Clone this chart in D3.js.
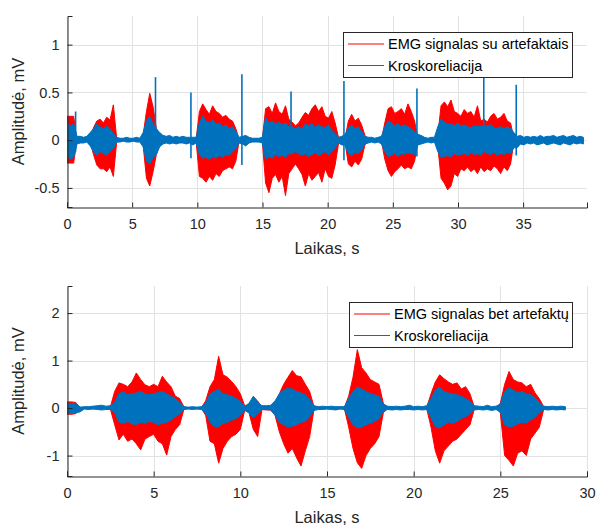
<!DOCTYPE html>
<html>
<head>
<meta charset="utf-8">
<script src="https://cdn.jsdelivr.net/npm/d3@7"></script>
<style>
  html, body { margin: 0; padding: 0; background: #fff; }
  svg { display: block; font-family: "Liberation Sans", Arial, Helvetica, sans-serif; }
</style>
</head>
<body>
<div id="chartHolder"></div>
<script>
// top panel: min / max of each 0.254 s window (mV)
const topStep = 0.254;
const topRedHi = [
  0.25, 0.25, 0.25, 0.01,  0.01, 0.01, 0.01, 0.02,  0.13, 0.20, 0.22, 0.18,  0.24, 0.21, 0.37, 0.02,
  0.01, 0.01, 0.01, 0.01,  0.01, 0.01, 0.01, 0.05,  0.30, 0.49, 0.35, 0.12,  0.04, 0.01, 0.01, 0.01,
  0.01, 0.01, 0.01, 0.01,  0.01, 0.01, 0.01, 0.01,  0.30, 0.38, 0.32, 0.27,  0.36, 0.30, 0.28, 0.24,
  0.26, 0.22, 0.20, 0.12,  0.01, 0.01, 0.01, 0.01,  0.01, 0.01, 0.01, 0.01,  0.33, 0.35, 0.28, 0.39,
  0.30, 0.27, 0.36, 0.22,  0.19, 0.15, 0.18, 0.24,  0.29, 0.26, 0.33, 0.37,  0.30, 0.35, 0.25, 0.23,
  0.30, 0.18, 0.03, 0.01,  0.02, 0.20, 0.27, 0.20,  0.23, 0.16, 0.05, 0.01,  0.01, 0.01, 0.01, 0.01,
  0.18, 0.33, 0.35, 0.28,  0.30, 0.33, 0.27, 0.38,  0.30, 0.20, 0.02, 0.01,  0.01, 0.01, 0.01, 0.01,
  0.05, 0.36, 0.40, 0.35,  0.42, 0.30, 0.28, 0.25,  0.32, 0.28, 0.30, 0.24,  0.36, 0.20, 0.22, 0.19,
  0.25, 0.28, 0.22, 0.24,  0.28, 0.20, 0.18, 0.02,  0.01, 0.01, 0.01, 0.01,  0.01, 0.01, 0.01, 0.01,
  0.01, 0.01, 0.01, 0.01,  0.01, 0.01, 0.01, 0.01,  0.01, 0.01, 0.01, 0.01,  0.01
];
const topRedLo = [
  -0.24, -0.24, -0.24, -0.01,  -0.01, -0.01, -0.01, -0.02,  -0.15, -0.26, -0.30, -0.30,  -0.33, -0.28, -0.38, -0.02,
  -0.01, -0.01, -0.01, -0.01,  -0.01, -0.01, -0.01, -0.05,  -0.40, -0.48, -0.33, -0.15,  -0.04, -0.01, -0.01, -0.01,
  -0.01, -0.01, -0.01, -0.01,  -0.01, -0.01, -0.01, -0.01,  -0.38, -0.40, -0.44, -0.38,  -0.42, -0.35, -0.38, -0.32,
  -0.30, -0.28, -0.30, -0.22,  -0.01, -0.01, -0.01, -0.01,  -0.01, -0.01, -0.01, -0.01,  -0.45, -0.55, -0.40, -0.36,
  -0.44, -0.38, -0.58, -0.35,  -0.30, -0.25, -0.30, -0.36,  -0.48, -0.35, -0.42, -0.38,  -0.34, -0.44, -0.30, -0.38,
  -0.40, -0.26, -0.04, -0.01,  -0.03, -0.25, -0.28, -0.22,  -0.26, -0.20, -0.05, -0.01,  -0.01, -0.01, -0.01, -0.01,
  -0.20, -0.32, -0.38, -0.33,  -0.30, -0.26, -0.30, -0.28,  -0.30, -0.22, -0.02, -0.01,  -0.01, -0.01, -0.01, -0.01,
  -0.06, -0.40, -0.45, -0.52,  -0.48, -0.35, -0.38, -0.30,  -0.32, -0.28, -0.33, -0.30,  -0.35, -0.28, -0.33, -0.30,
  -0.32, -0.27, -0.30, -0.35,  -0.28, -0.32, -0.25, -0.02,  -0.01, -0.01, -0.01, -0.01,  -0.01, -0.01, -0.01, -0.01,
  -0.01, -0.01, -0.01, -0.01,  -0.01, -0.01, -0.01, -0.01,  -0.01, -0.01, -0.01, -0.01,  -0.01
];
const topBlueHi = [
  0.18, 0.15, 0.17, 0.04,  0.04, 0.03, 0.04, 0.08,  0.12, 0.17, 0.14, 0.12,  0.15, 0.12, 0.07, 0.03,
  0.02, 0.02, 0.03, 0.02,  0.02, 0.03, 0.02, 0.08,  0.20, 0.25, 0.17, 0.12,  0.08, 0.05, 0.04, 0.05,
  0.03, 0.04, 0.03, 0.04,  0.03, 0.03, 0.03, 0.03,  0.18, 0.25, 0.20, 0.18,  0.21, 0.17, 0.18, 0.14,
  0.16, 0.12, 0.14, 0.09,  0.03, 0.04, 0.05, 0.03,  0.02, 0.02, 0.02, 0.03,  0.24, 0.18, 0.20, 0.17,
  0.19, 0.16, 0.18, 0.14,  0.14, 0.12, 0.14, 0.12,  0.17, 0.15, 0.17, 0.13,  0.16, 0.14, 0.13, 0.16,
  0.10, 0.07, 0.03, 0.04,  0.06, 0.13, 0.16, 0.12,  0.14, 0.09, 0.04, 0.03,  0.03, 0.02, 0.03, 0.04,
  0.14, 0.20, 0.18, 0.15,  0.17, 0.14, 0.16, 0.14,  0.12, 0.09, 0.06, 0.05,  0.03, 0.02, 0.03, 0.03,
  0.14, 0.22, 0.19, 0.17,  0.17, 0.15, 0.18, 0.15,  0.16, 0.14, 0.13, 0.15,  0.14, 0.15, 0.14, 0.15,
  0.16, 0.13, 0.12, 0.14,  0.12, 0.14, 0.12, 0.08,  0.04, 0.05, 0.03, 0.04,  0.03, 0.04, 0.03, 0.05,
  0.03, 0.04, 0.04, 0.05,  0.03, 0.04, 0.05, 0.03,  0.04, 0.05, 0.03, 0.04,  0.03
];
const topBlueLo = [
  -0.17, -0.20, -0.18, -0.04,  -0.03, -0.03, -0.02, -0.06,  -0.12, -0.16, -0.12, -0.14,  -0.16, -0.12, -0.09, -0.02,
  -0.02, -0.01, -0.02, -0.02,  -0.01, -0.02, -0.02, -0.07,  -0.22, -0.25, -0.18, -0.15,  -0.07, -0.04, -0.03, -0.04,
  -0.03, -0.04, -0.03, -0.03,  -0.04, -0.03, -0.05, -0.03,  -0.15, -0.19, -0.18, -0.20,  -0.17, -0.19, -0.16, -0.18,
  -0.15, -0.16, -0.12, -0.09,  -0.03, -0.04, -0.06, -0.03,  -0.02, -0.02, -0.02, -0.03,  -0.20, -0.17, -0.19, -0.15,
  -0.17, -0.16, -0.18, -0.14,  -0.14, -0.12, -0.14, -0.16,  -0.14, -0.17, -0.15, -0.13,  -0.16, -0.14, -0.12, -0.16,
  -0.12, -0.08, -0.03, -0.05,  -0.05, -0.14, -0.16, -0.13,  -0.14, -0.10, -0.04, -0.03,  -0.02, -0.03, -0.02, -0.04,
  -0.12, -0.17, -0.16, -0.14,  -0.17, -0.14, -0.15, -0.13,  -0.14, -0.15, -0.05, -0.04,  -0.03, -0.02, -0.03, -0.02,
  -0.12, -0.18, -0.17, -0.16,  -0.18, -0.14, -0.16, -0.15,  -0.14, -0.16, -0.13, -0.15,  -0.14, -0.16, -0.12, -0.14,
  -0.15, -0.13, -0.16, -0.14,  -0.15, -0.13, -0.14, -0.08,  -0.08, -0.04, -0.05, -0.03,  -0.04, -0.03, -0.05, -0.04,
  -0.03, -0.05, -0.04, -0.03,  -0.04, -0.05, -0.03, -0.04,  -0.05, -0.03, -0.04, -0.03,  -0.04
];
// narrow cross-correlation peaks in the top panel
const topSpikeT  = [0.66, 6.79, 9.51, 13.42, 17.19, 21.25, 26.85, 31.98, 34.47];
const topSpikeHi = [0.30, 0.66, 0.50, 0.69, 0.51, 0.62, 0.54, 0.95, 0.58];
const topSpikeLo = [-0.12, -0.10, -0.19, -0.26, -0.15, -0.21, -0.17, -0.12, -0.16];

// bottom panel: min / max of each 0.25 s window (mV)
const botStep = 0.25;
const botRedHi = [
  0.13, 0.13, 0.12, 0.01,  0.01, 0.01, 0.01, 0.01,  0.01, 0.01, 0.02, 0.35,  0.53, 0.50, 0.45, 0.55,
  0.74, 0.60, 0.49, 0.45,  0.50, 0.45, 0.67, 0.55,  0.45, 0.25, 0.20, 0.02,  0.01, 0.01, 0.01, 0.01,
  0.15, 0.45, 0.60, 1.09,  0.70, 0.65, 0.56, 0.45,  0.30, 0.05, 0.02, 0.24,  0.15, 0.01, 0.00, 0.00,
  0.10, 0.30, 0.50, 0.65,  0.79, 0.68, 0.66, 0.50,  0.35, 0.03, 0.01, 0.01,  0.01, 0.01, 0.01, 0.01,
  0.01, 0.25, 0.65, 1.23,  0.85, 0.74, 0.60, 0.55,  0.50, 0.10, 0.01, 0.01,  0.01, 0.01, 0.01, 0.01,
  0.01, 0.01, 0.01, 0.01,  0.30, 0.55, 0.70, 0.62,  0.55, 0.50, 0.53, 0.40,  0.45, 0.30, 0.02, 0.01,
  0.01, 0.01, 0.01, 0.01,  0.10, 0.50, 0.77, 0.60,  0.55, 0.53, 0.45, 0.50,  0.32, 0.20, 0.03, 0.01,
  0.01, 0.01, 0.01, 0.01
];
const botRedLo = [
  -0.13, -0.13, -0.12, -0.01,  -0.01, -0.01, -0.01, -0.01,  -0.01, -0.01, -0.02, -0.35,  -0.67, -0.55, -0.70, -0.65,
  -0.75, -0.88, -0.65, -0.60,  -0.55, -0.70, -0.75, -0.99,  -0.60, -0.45, -0.35, -0.02,  -0.01, -0.01, -0.01, -0.01,
  -0.15, -0.70, -0.75, -1.16,  -0.85, -0.70, -0.60, -0.55,  -0.45, -0.05, -0.10, -0.45,  -0.60, -0.03, -0.04, -0.04,
  -0.15, -0.50, -0.75, -0.95,  -0.85, -1.05, -1.22, -0.90,  -0.60, -0.03, -0.01, -0.01,  -0.01, -0.01, -0.01, -0.01,
  -0.01, -0.40, -0.85, -1.15,  -1.27, -1.00, -0.85, -0.75,  -0.60, -0.10, -0.01, -0.01,  -0.01, -0.01, -0.01, -0.01,
  -0.01, -0.01, -0.01, -0.01,  -0.40, -0.90, -1.16, -0.90,  -0.80, -0.70, -0.65, -0.55,  -0.45, -0.35, -0.02, -0.01,
  -0.01, -0.01, -0.01, -0.01,  -0.10, -1.00, -1.10, -1.22,  -0.95, -0.90, -1.00, -0.65,  -0.53, -0.40, -0.03, -0.01,
  -0.01, -0.01, -0.01, -0.01
];
const botBlueHi = [
  0.10, 0.09, 0.10, 0.02,  0.03, 0.03, 0.04, 0.05,  0.06, 0.04, 0.05, 0.12,  0.30, 0.35, 0.28, 0.30,
  0.32, 0.35, 0.30, 0.28,  0.30, 0.33, 0.35, 0.30,  0.25, 0.20, 0.12, 0.03,  0.02, 0.03, 0.02, 0.03,
  0.10, 0.30, 0.35, 0.40,  0.30, 0.28, 0.25, 0.20,  0.15, 0.04, 0.10, 0.25,  0.12, 0.05, 0.05, 0.06,
  0.15, 0.30, 0.38, 0.42,  0.40, 0.35, 0.32, 0.28,  0.18, 0.05, 0.03, 0.04,  0.03, 0.04, 0.03, 0.03,
  0.03, 0.20, 0.35, 0.45,  0.40, 0.35, 0.30, 0.28,  0.25, 0.08, 0.04, 0.03,  0.04, 0.03, 0.04, 0.06,
  0.03, 0.04, 0.03, 0.05,  0.20, 0.38, 0.45, 0.35,  0.32, 0.30, 0.28, 0.25,  0.20, 0.15, 0.05, 0.04,
  0.03, 0.06, 0.03, 0.04,  0.08, 0.35, 0.42, 0.38,  0.32, 0.35, 0.30, 0.28,  0.22, 0.12, 0.04, 0.03,
  0.04, 0.03, 0.04, 0.03
];
const botBlueLo = [
  -0.10, -0.12, -0.10, -0.08,  -0.02, -0.03, -0.02, -0.03,  -0.04, -0.03, -0.03, -0.10,  -0.30, -0.32, -0.28, -0.33,
  -0.35, -0.30, -0.32, -0.28,  -0.30, -0.35, -0.32, -0.30,  -0.25, -0.18, -0.12, -0.03,  -0.02, -0.03, -0.02, -0.03,
  -0.10, -0.30, -0.38, -0.40,  -0.32, -0.30, -0.25, -0.22,  -0.15, -0.04, -0.10, -0.20,  -0.12, -0.03, -0.03, -0.04,
  -0.15, -0.30, -0.35, -0.40,  -0.38, -0.35, -0.30, -0.28,  -0.18, -0.05, -0.03, -0.03,  -0.02, -0.03, -0.04, -0.02,
  -0.03, -0.20, -0.35, -0.42,  -0.40, -0.35, -0.32, -0.28,  -0.22, -0.06, -0.03, -0.04,  -0.03, -0.04, -0.03, -0.03,
  -0.04, -0.03, -0.04, -0.03,  -0.20, -0.40, -0.42, -0.35,  -0.30, -0.32, -0.28, -0.22,  -0.18, -0.12, -0.04, -0.03,
  -0.04, -0.03, -0.05, -0.03,  -0.08, -0.35, -0.40, -0.38,  -0.33, -0.30, -0.32, -0.25,  -0.20, -0.10, -0.03, -0.04,
  -0.03, -0.04, -0.03, -0.04
];

const topXTicks = [0, 5, 10, 15, 20, 25, 30, 35];
const topYTicks = [-0.5, 0, 0.5, 1];
const botXTicks = [0, 5, 10, 15, 20, 25, 30];
const botYTicks = [-1, 0, 1, 2];

const topLegend = ["EMG signalas su artefaktais", "Kroskoreliacija"];
const botLegend = ["EMG signalas bet artefaktų", "Kroskoreliacija"];

const RED = "#ff0000", BLUE = "#0072bd", AX = "#262626", GRID = "#e2e2e2";
const width = 596, height = 525;

const svg = d3.select("#chartHolder").append("svg")
  .attr("width", width).attr("height", height);

function bins(step, hi, lo) {
  return hi.map((h, i) => ({ t: i * step, hi: h, lo: lo[i] }));
}

function drawPanel(p) {
  const x = d3.scaleLinear().domain(p.xDomain).range([p.left, p.right]);
  const y = d3.scaleLinear().domain(p.yDomain).range([p.bottom, p.top]);
  const g = svg.append("g");

  // grid
  g.append("g").selectAll("line").data(p.xTicks).join("line")
    .attr("x1", d => Math.round(x(d)) + 0.5).attr("x2", d => Math.round(x(d)) + 0.5)
    .attr("y1", p.top).attr("y2", p.bottom)
    .attr("stroke", GRID).attr("stroke-width", 1);
  g.append("g").selectAll("line").data(p.yTicks).join("line")
    .attr("y1", d => Math.round(y(d)) + 0.5).attr("y2", d => Math.round(y(d)) + 0.5)
    .attr("x1", p.left).attr("x2", p.right)
    .attr("stroke", GRID).attr("stroke-width", 1);

  const clipId = "clip" + p.id;
  svg.append("clipPath").attr("id", clipId).append("rect")
    .attr("x", p.left).attr("y", p.top)
    .attr("width", p.right - p.left).attr("height", p.bottom - p.top);

  const area = d3.area().x(d => x(d.t)).y0(d => y(d.lo)).y1(d => y(d.hi));
  const plot = g.append("g").attr("clip-path", `url(#${clipId})`);

  p.series.forEach(s => {
    plot.append("path")
      .datum(s.data)
      .attr("d", area)
      .attr("fill", s.color)
      .attr("stroke", s.color)
      .attr("stroke-width", 1)
      .attr("stroke-linejoin", "round");
    if (s.spikes) {
      plot.append("g").selectAll("line").data(s.spikes).join("line")
        .attr("x1", d => x(d.t)).attr("x2", d => x(d.t))
        .attr("y1", d => y(d.lo)).attr("y2", d => y(d.hi))
        .attr("stroke", s.color).attr("stroke-width", 1.6);
    }
  });

  // axes (left and bottom only, ticks inward)
  const xAxis = d3.axisBottom(x).tickValues(p.xTicks).tickSize(-5).tickPadding(11)
    .tickFormat(d => String(d));
  const yAxis = d3.axisLeft(y).tickValues(p.yTicks).tickSize(-5).tickPadding(8)
    .tickFormat(d => String(d));
  const gx = g.append("g").attr("transform", `translate(0,${p.bottom + 0.5})`).call(xAxis);
  const gy = g.append("g").attr("transform", `translate(${p.left + 0.5},0)`).call(yAxis);
  [gx, gy].forEach(a => {
    a.select(".domain").attr("stroke", AX).attr("stroke-width", 1);
    a.selectAll(".tick line").attr("stroke", AX);
    a.selectAll(".tick text").attr("fill", AX).attr("font-size", 14.5)
      .attr("font-family", "Liberation Sans, Arial, sans-serif");
  });

  g.append("text")
    .attr("x", (p.left + p.right) / 2).attr("y", p.bottom + 47)
    .attr("text-anchor", "middle").attr("fill", AX).attr("font-size", 16.5)
    .text("Laikas, s");
  g.append("text")
    .attr("transform", `translate(24,${(p.top + p.bottom) / 2}) rotate(-90)`)
    .attr("text-anchor", "middle").attr("fill", AX).attr("font-size", 16.5)
    .text("Amplitudė, mV");

  // legend
  const lg = g.append("g");
  lg.append("rect")
    .attr("x", p.legend.x + 0.5).attr("y", p.legend.y + 0.5)
    .attr("width", p.legend.w).attr("height", p.legend.h)
    .attr("fill", "#fff").attr("stroke", AX).attr("stroke-width", 1);
  p.series.forEach((s, i) => {
    const cy = p.legend.y + 12 + i * 21.5;
    lg.append("line")
      .attr("x1", p.legend.x + 5).attr("x2", p.legend.x + 41)
      .attr("y1", cy).attr("y2", cy)
      .attr("stroke", s.color).attr("stroke-width", 1.2);
    lg.append("text")
      .attr("x", p.legend.x + 45).attr("y", cy + 5)
      .attr("fill", "#000").attr("font-size", 14.5)
      .text(p.labels[i]);
  });
}

drawPanel({
  id: "top",
  left: 67, right: 587, top: 16, bottom: 207,
  xDomain: [0, 39.9], yDomain: [-0.7, 1.3],
  xTicks: topXTicks, yTicks: topYTicks,
  labels: topLegend,
  legend: { x: 343, y: 32, w: 229, h: 45 },
  series: [
    { color: RED, data: bins(topStep, topRedHi, topRedLo) },
    { color: BLUE, data: bins(topStep, topBlueHi, topBlueLo),
      spikes: topSpikeT.map((t, i) => ({ t, hi: topSpikeHi[i], lo: topSpikeLo[i] })) }
  ]
});

drawPanel({
  id: "bot",
  left: 67, right: 587, top: 286, bottom: 476,
  xDomain: [0, 30], yDomain: [-1.43, 2.57],
  xTicks: botXTicks, yTicks: botYTicks,
  labels: botLegend,
  legend: { x: 349, y: 302, w: 223, h: 45 },
  series: [
    { color: RED, data: bins(botStep, botRedHi, botRedLo) },
    { color: BLUE, data: bins(botStep, botBlueHi, botBlueLo) }
  ]
});
</script>
</body>
</html>
